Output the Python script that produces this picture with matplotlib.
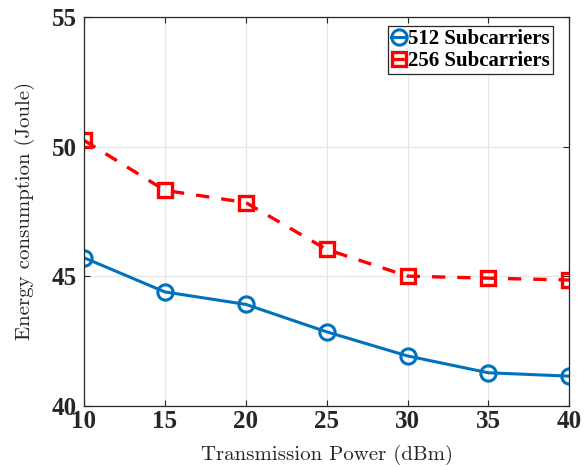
import matplotlib.pyplot as plt

power = [10, 15, 20, 25, 30, 35, 40]
energy_512 = [45.71, 44.39, 43.91, 42.85, 41.92, 41.27, 41.14]
energy_256 = [50.24, 48.31, 47.84, 46.03, 45.00, 44.92, 44.85]

plt.rcParams['font.family'] = 'Liberation Serif'

fig = plt.figure(figsize=(5.86, 4.67), dpi=100)
ax = fig.add_axes([0.1433, 0.1313, 0.8282, 0.8323])

ax.plot(power, energy_512, color='#0072BD', linewidth=2.2, marker='o',
        markersize=11, markerfacecolor='none', markeredgewidth=2.2,
        label='512 Subcarriers')
ax.plot(power, energy_256, color='#FF0000', linewidth=2.4, linestyle=(0, (4, 3.6)),
        marker='s', markersize=10.5, markerfacecolor='none', markeredgewidth=2.4,
        label='256 Subcarriers')

ax.set_xlim(10, 40)
ax.set_ylim(40, 55)
ax.set_xticks(power)
ax.set_yticks([40, 45, 50, 55])
ax.grid(True, color='#e6e6e6', linewidth=0.9)
ax.set_axisbelow(True)
ax.tick_params(direction='in', top=True, right=True, labelsize=18, length=4,
               color='#262626')
ax.tick_params(axis='x', pad=3)
ax.tick_params(axis='y', pad=5)
for lbl in ax.get_xticklabels() + ax.get_yticklabels():
    lbl.set_fontweight('bold')
    lbl.set_color('#262626')
for s in ax.spines.values():
    s.set_color('#262626')
    s.set_linewidth(0.9)

ax.set_xlabel('Transmission Power (dBm)', fontsize=15, family='cmr10',
              color='#262626', labelpad=9)
ax.set_ylabel('Energy consumption (Joule)', fontsize=15, family='cmr10',
              color='#262626', labelpad=12)

leg = ax.legend(loc='upper right', bbox_to_anchor=(553 / 586, (467 - 26) / 467),
                bbox_transform=fig.transFigure, borderaxespad=0,
                prop={'weight': 'bold', 'size': 15},
                handlelength=0.7, handletextpad=0.1, borderpad=0.15,
                labelspacing=0.1, fancybox=False, framealpha=1)
leg.get_frame().set_edgecolor('#262626')
leg.get_frame().set_linewidth(0.9)

fig.savefig('out.png', dpi=100)
